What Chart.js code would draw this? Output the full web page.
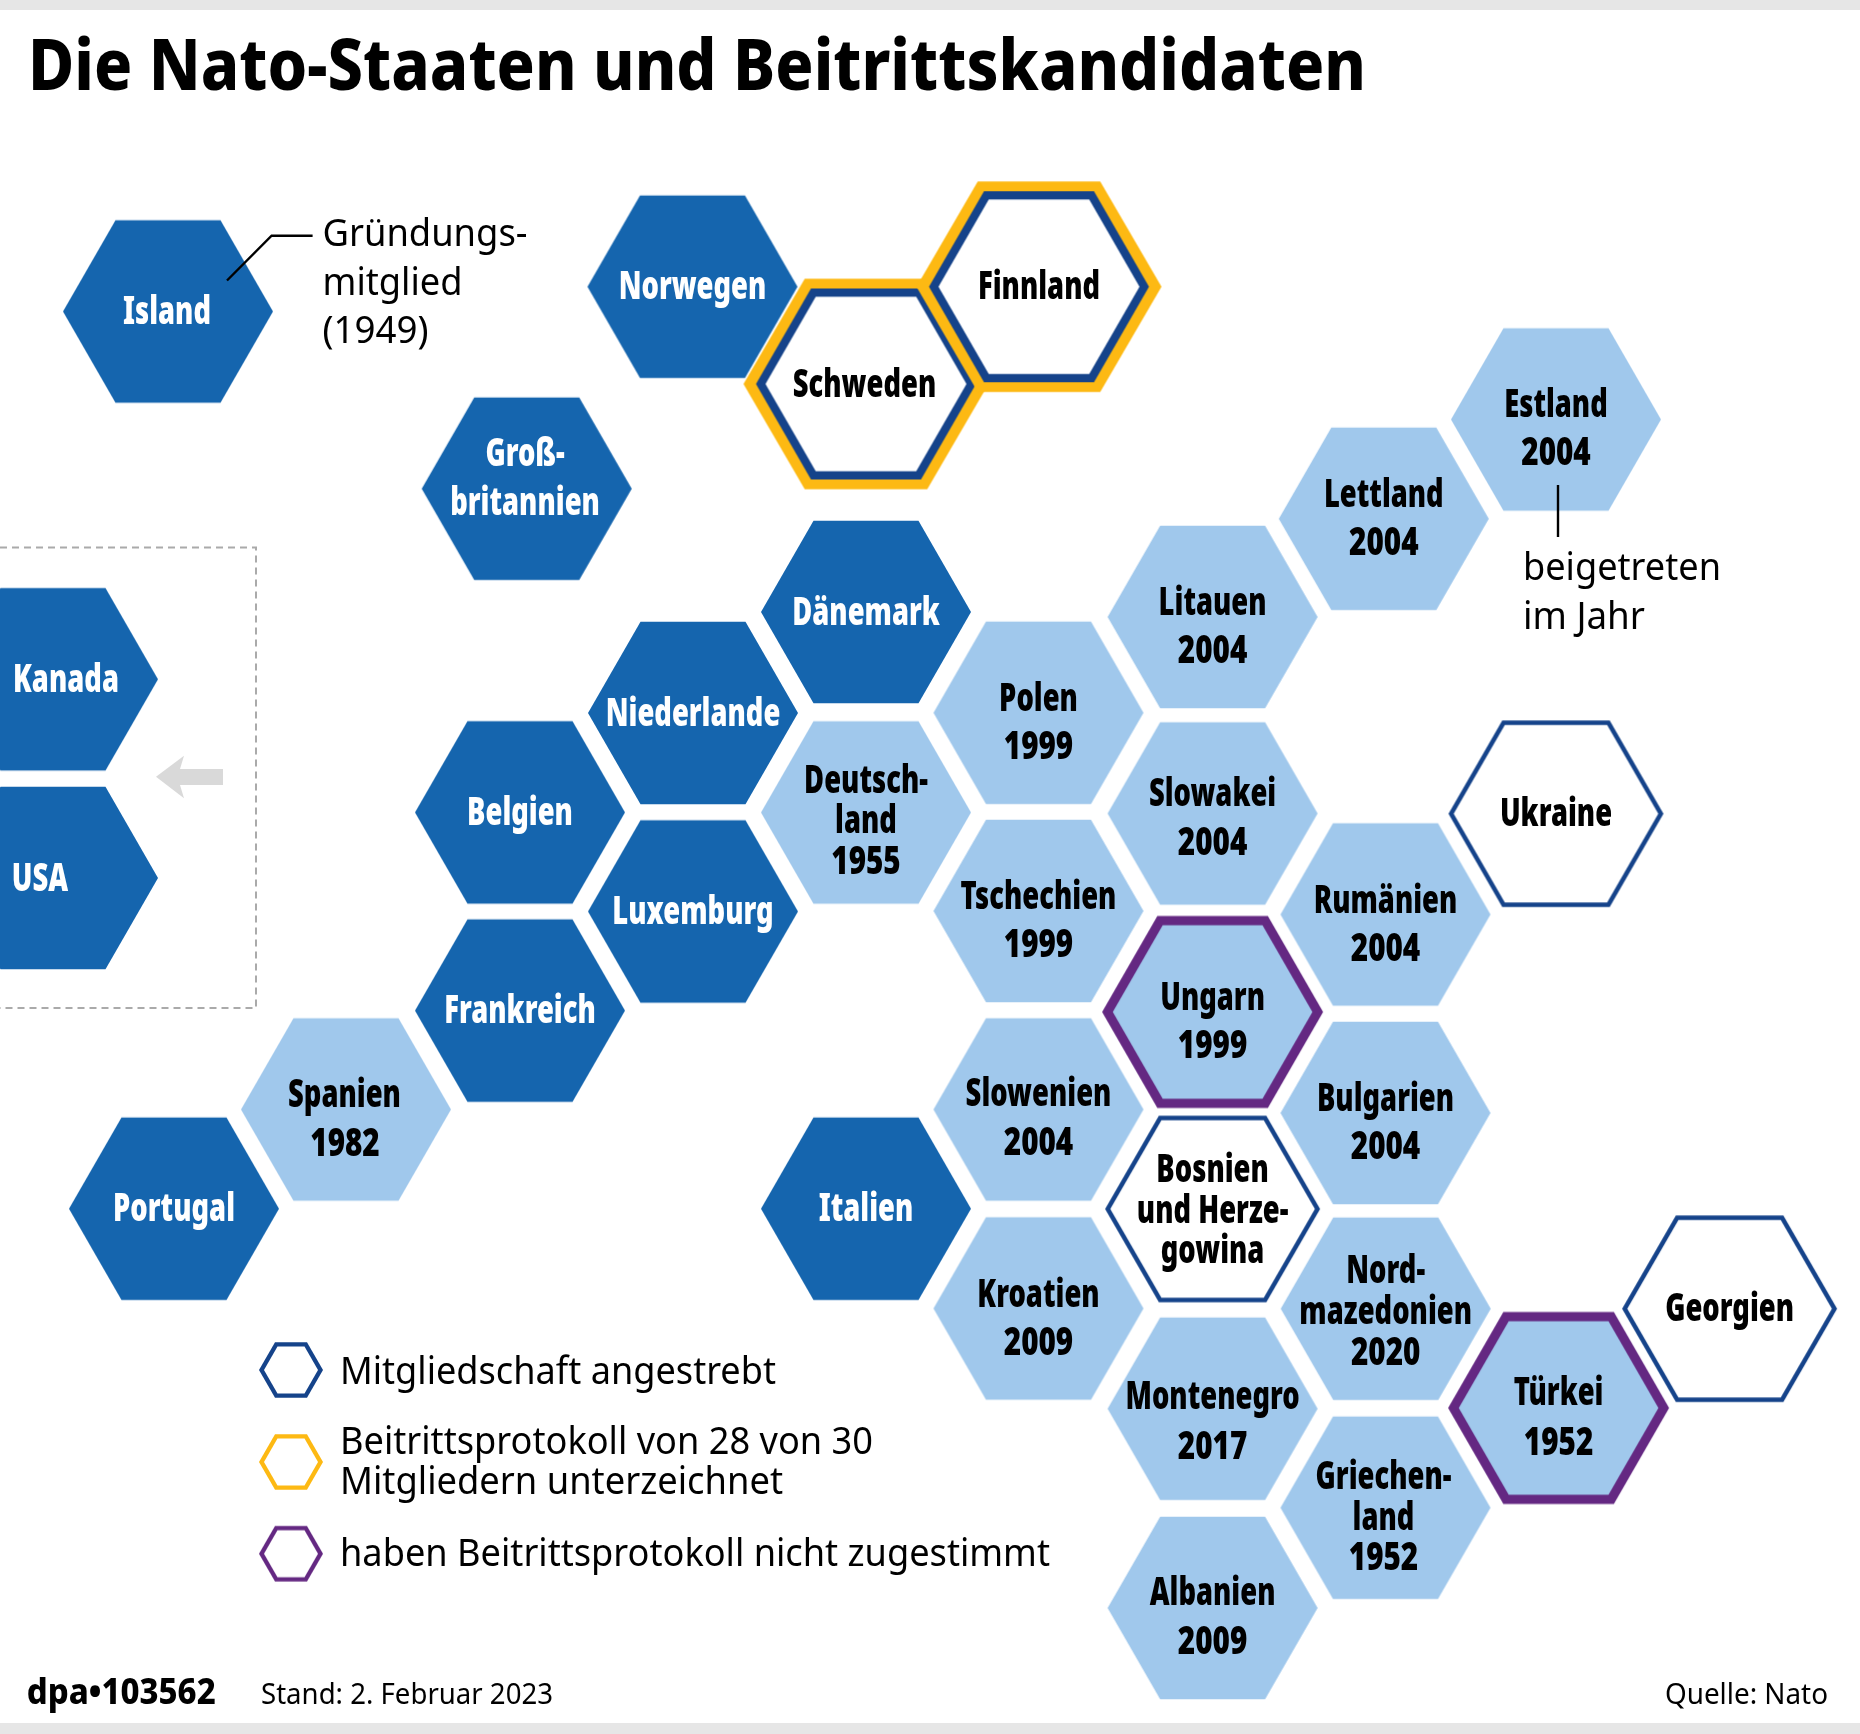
<!DOCTYPE html>
<html lang="de">
<head>
<meta charset="utf-8">
<title>Die Nato-Staaten und Beitrittskandidaten</title>
<style>html,body{margin:0;padding:0;background:#fff}canvas{display:block}</style>
<script src="https://cdn.jsdelivr.net/npm/chart.js@4/dist/chart.umd.min.js"></script>
</head>
<body>
<canvas id="c" width="1860" height="1734"></canvas>
<script>
// ---- data (hexagon centres on the 1860x1734 map grid) ----
const countries = ["Island","Norwegen","Großbritannien","Dänemark","Niederlande","Belgien","Luxemburg","Frankreich","Portugal","Italien","Kanada","USA",
  "Spanien","Deutschland","Polen","Tschechien","Slowenien","Kroatien","Litauen","Slowakei","Montenegro","Albanien","Lettland","Rumänien","Bulgarien","Nordmazedonien","Griechenland","Estland",
  "Ungarn","Türkei","Ukraine","Bosnien und Herzegowina","Georgien","Schweden","Finnland"];
const status = ["founder","founder","founder","founder","founder","founder","founder","founder","founder","founder","founder","founder",
  "joined","joined","joined","joined","joined","joined","joined","joined","joined","joined","joined","joined","joined","joined","joined","joined",
  "holdout","holdout","aspirant","aspirant","aspirant","signed","signed"];
const joinYear = [1949,1949,1949,1949,1949,1949,1949,1949,1949,1949,1949,1949,
  1982,1955,1999,1999,2004,2009,2004,2004,2017,2009,2004,2004,2004,2020,1952,2004,
  1999,1952,null,null,null,null,null];
const gridX = [168,692.5,526.7,866,693,520,693,520,174,866,53,53,
  346,866,1038.5,1038.5,1038.5,1038.5,1212.6,1212.6,1212.6,1212.6,1383.8,1385.5,1385.5,1385.7,1385.5,1556,
  1212.6,1558.6,1556,1212.6,1729.6,866,1039];
const gridY = [311.5,286.7,488.7,612,713,812.4,911.5,1010.6,1208.7,1208.7,679.3,878,
  1109.5,812.5,712.8,911,1109.5,1308.5,617,813.5,1408.7,1608,518.8,914.5,1113,1308.7,1507.7,419.5,
  1012,1408,813.7,1209,1308.7,384,286.7];
const legendLabels = [["Mitgliedschaft angestrebt"],["Beitrittsprotokoll von 28 von 30","Mitgliedern unterzeichnet"],["haben Beitrittsprotokoll nicht zugestimmt"]];
const legendKinds = ["legendNavy","legendGold","legendPurple"];
const titleText = "Die Nato-Staaten und Beitrittskandidaten";
const standText = "Stand: 2. Februar 2023";
const sourceText = "Quelle: Nato";
const creditText = "dpa•103562";
const foundingNote = ["Gründungs-","mitglied","(1949)"];
const yearNote = ["beigetreten","im Jahr"];

// ---- layout: text lines and baselines per hexagon ----
const hexText = {
  "Island":[["Island",323.5,167]],"Norwegen":[["Norwegen",298]],"Großbritannien":[["Groß-",465,525],["britannien",514,525]],
  "Dänemark":[["Dänemark",624]],"Niederlande":[["Niederlande",725]],"Belgien":[["Belgien",824]],"Luxemburg":[["Luxemburg",923]],
  "Frankreich":[["Frankreich",1022]],"Portugal":[["Portugal",1220.5]],"Italien":[["Italien",1220.5]],
  "Kanada":[["Kanada",691,66]],"USA":[["USA",890,40]],
  "Spanien":[["Spanien",1106.5,344.5],["1982",1155,345]],"Deutschland":[["Deutsch-",792],["land",832.5],["1955",873]],
  "Polen":[["Polen",710],["1999",758]],"Tschechien":[["Tschechien",908],["1999",956]],"Slowenien":[["Slowenien",1105],["2004",1154]],
  "Kroatien":[["Kroatien",1306],["2009",1354.5]],"Litauen":[["Litauen",614],["2004",662]],"Slowakei":[["Slowakei",805],["2004",854]],
  "Montenegro":[["Montenegro",1408.5],["2017",1458]],"Albanien":[["Albanien",1604],["2009",1653.5]],"Lettland":[["Lettland",506],["2004",554]],
  "Rumänien":[["Rumänien",912],["2004",960]],"Bulgarien":[["Bulgarien",1110],["2004",1158.5]],
  "Nordmazedonien":[["Nord-",1282],["mazedonien",1323.5],["2020",1364]],"Griechenland":[["Griechen-",1488.5,1383.5],["land",1529,1383.5],["1952",1569.5,1383.5]],
  "Estland":[["Estland",416],["2004",464.5]],"Ungarn":[["Ungarn",1009],["1999",1057]],"Türkei":[["Türkei",1404.5],["1952",1454]],
  "Ukraine":[["Ukraine",825.5]],"Bosnien und Herzegowina":[["Bosnien",1181],["und Herze-",1222],["gowina",1262.5]],
  "Georgien":[["Georgien",1320]],"Schweden":[["Schweden",396,864.5]],"Finnland":[["Finnland",298]]
};
const COL = {dark:"#1565AE",light:"#A0C8EC",navy:"#15438A",gold:"#FDB913",purple:"#642882",white:"#FFFFFF",band:"#E6E6E6",dash:"#AAAAAA",arrow:"#D9D9D9"};
const FONT = '"Noto Sans"';
const COND_TEXT = 0.72, COND_YEAR = 0.78, BASE_SHIFT = 0.8;

function hexPath(g,cx,cy,R,hr){
  const h=hr||R*0.868;
  g.beginPath();
  g.moveTo(cx-R,cy);g.lineTo(cx-R/2,cy-h);g.lineTo(cx+R/2,cy-h);g.lineTo(cx+R,cy);g.lineTo(cx+R/2,cy+h);g.lineTo(cx-R/2,cy+h);g.closePath();
}
function hexSprite(layers){
  const R=layers[0][0],s=Math.ceil(R*2+4),cv=document.createElement("canvas");
  cv.width=s;cv.height=s;
  const g=cv.getContext("2d");
  layers.forEach(([r,col,hr])=>{ if(col===null){g.globalCompositeOperation="destination-out";g.fillStyle="#000";}else{g.globalCompositeOperation="source-over";g.fillStyle=col;} hexPath(g,s/2,s/2,r,hr);g.fill();});
  return cv;
}
const sprites = {
  founder:hexSprite([[105,COL.dark]]),
  joined:hexSprite([[105,COL.light]]),
  holdout:hexSprite([[110.5,COL.purple],[99.8,COL.light]]),
  aspirant:hexSprite([[107.5,COL.navy],[102.3,COL.white]]),
  signed:hexSprite([[122.5,COL.gold,105.3],[110,COL.navy],[100.5,COL.white]]),
  legendNavy:hexSprite([[32,COL.navy],[27,null]]),
  legendGold:hexSprite([[32,COL.gold],[27,null]]),
  legendPurple:hexSprite([[32,COL.purple],[27,null]])
};
function kindPoints(kind){
  const out=[];
  countries.forEach((n,i)=>{if(status[i]===kind)out.push({x:gridX[i],y:gridY[i],name:n,year:joinYear[i]});});
  return out;
}
const legendX=[291,291,291], legendY=[1370,1462,1553.7];
const datasets=["founder","joined","holdout","aspirant","signed"].map(k=>({label:k,data:kindPoints(k),pointStyle:sprites[k],pointRadius:10,clip:false,showLine:false}));
legendKinds.forEach((k,i)=>datasets.push({label:legendLabels[i].join(" "),data:[{x:legendX[i],y:legendY[i]}],pointStyle:sprites[k],pointRadius:10,clip:false,showLine:false}));

function put(g,t,x,y,font,color,width,align){
  g.font=font;g.fillStyle=color;g.textAlign=align||"left";g.textBaseline="alphabetic";
  if(width) g.fillText(t,x,y,width); else g.fillText(t,x,y);
}
const mapArt={
  id:"mapArt",
  beforeDatasetsDraw(chart){
    const g=chart.ctx,X=chart.scales.x,Y=chart.scales.y,px=v=>X.getPixelForValue(v),py=v=>Y.getPixelForValue(v);
    g.save();
    g.fillStyle=COL.white;g.fillRect(0,0,1860,1734);
    g.fillStyle=COL.band;g.fillRect(px(0),py(0),1860,10);g.fillRect(px(0),py(1723),1860,11);
    // dashed box around the North American members
    g.strokeStyle=COL.dash;g.lineWidth=2;g.setLineDash([7,5]);
    g.beginPath();g.moveTo(px(0),py(547.5));g.lineTo(px(256),py(547.5));g.lineTo(px(256),py(1008));g.lineTo(px(0),py(1008));g.stroke();
    g.setLineDash([]);
    // arrow
    g.fillStyle=COL.arrow;g.beginPath();
    [[156,776.7],[184,755.7],[180,769],[223,769],[223,785],[180,785],[184,798.3]].forEach(([a,b],i)=>i?g.lineTo(px(a),py(b)):g.moveTo(px(a),py(b)));
    g.closePath();g.fill();
    g.restore();
  },
  afterDatasetsDraw(chart){
    const g=chart.ctx,X=chart.scales.x,Y=chart.scales.y,px=v=>X.getPixelForValue(v),py=v=>Y.getPixelForValue(v);
    g.save();
    // leader lines
    g.strokeStyle="#000";g.lineWidth=2.4;
    g.beginPath();g.moveTo(px(227),py(280.5));g.lineTo(px(271.6),py(235.7));g.lineTo(px(312.6),py(235.7));g.stroke();
    g.beginPath();g.moveTo(px(1558),py(485));g.lineTo(px(1558),py(537));g.stroke();
    // hex labels
    countries.forEach((n,i)=>{
      const st=status[i],col=st==="founder"?COL.white:"#000";
      hexText[n].forEach(([t,b,lx])=>{
        const font=`900 38px ${FONT}`;g.font=font;
        const k=/^\d+$/.test(t)?COND_YEAR:COND_TEXT;
        put(g,t,px(lx!==undefined?lx:gridX[i]),py(b+BASE_SHIFT),font,col,g.measureText(t).width*k,"center");
      });
    });
    // title
    put(g,titleText,px(28),py(90),`800 71px ${FONT}`,"#000",1338);
    // notes
    const noteFont=`400 38px ${FONT}`;
    [[foundingNote[0],245.5,205],[foundingNote[1],295,140],[foundingNote[2],343,106]].forEach(([t,b,w])=>put(g,t,px(322.5),py(b),noteFont,"#000",w));
    [[yearNote[0],580,198],[yearNote[1],628.5,122]].forEach(([t,b,w])=>put(g,t,px(1523),py(b),noteFont,"#000",w));
    // legend
    const lgFont=`400 38px ${FONT}`;
    put(g,legendLabels[0][0],px(340),py(1384),lgFont,"#000",436);
    put(g,legendLabels[1][0],px(340),py(1453.5),lgFont,"#000",533);
    put(g,legendLabels[1][1],px(340),py(1493.5),lgFont,"#000",443);
    put(g,legendLabels[2][0],px(340),py(1565.8),lgFont,"#000",710);
    // footer
    put(g,creditText,px(26.7),py(1704),`800 35px ${FONT}`,"#000",189);
    put(g,standText,px(261),py(1703.5),`400 29px ${FONT}`,"#000",292);
    put(g,sourceText,px(1665),py(1704),`400 29px ${FONT}`,"#000",163);
    g.restore();
  }
};
new Chart(document.getElementById("c").getContext("2d"),{
  type:"scatter",
  data:{datasets},
  options:{
    responsive:false,animation:false,devicePixelRatio:1,
    layout:{padding:0,autoPadding:false},
    events:[],
    scales:{
      x:{type:"linear",min:0,max:1860,display:false},
      y:{type:"linear",min:0,max:1734,reverse:true,display:false}
    },
    plugins:{legend:{display:false},tooltip:{enabled:false},title:{display:false}}
  },
  plugins:[mapArt]
});
</script>
</body>
</html>
